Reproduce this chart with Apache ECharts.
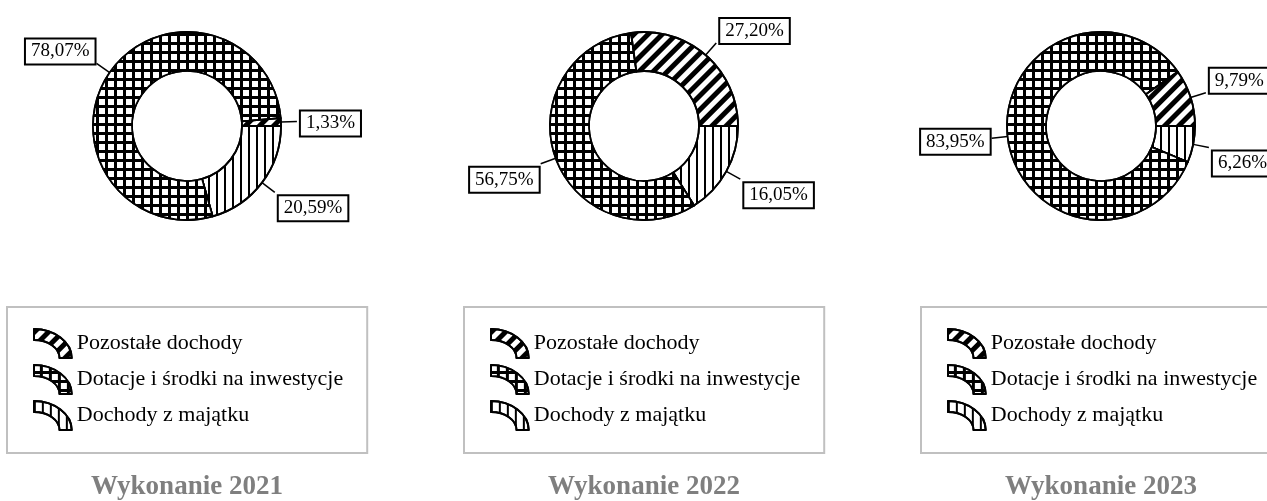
<!DOCTYPE html>
<html>
<head>
<meta charset="utf-8">
<script src="https://cdn.jsdelivr.net/npm/echarts@6/dist/echarts.min.js"></script>
<style>
  html, body { margin: 0; padding: 0; background: #fff; }
  #main { width: 1267px; height: 501px; }
</style>
</head>
<body>
<div id="main"></div>
<script>
var categories = ['Dochody z majątku', 'Dotacje i środki na inwestycje', 'Pozostałe dochody'];
var legendOrder = ['Pozostałe dochody', 'Dotacje i środki na inwestycje', 'Dochody z majątku'];
var titles = ['Wykonanie 2021', 'Wykonanie 2022', 'Wykonanie 2023'];
var share2021 = [20.59, 78.07, 1.33];
var share2022 = [16.05, 56.75, 27.20];
var share2023 = [6.26, 83.95, 9.79];
var shares = [share2021, share2022, share2023];

var dom = document.getElementById('main');
var myChart = echarts.init(dom);

var FONT = 'Liberation Serif';
var centersX = [187, 644, 1101];

// patterns: vertical lines, grid, diagonal stripes
var patterns = [
	{ color: '#fff', decal: { symbol: 'rect', color: '#000', dashArrayX: [2, 6], dashArrayY: [1, 0], rotation: 0 } },
	{ color: '#000', decal: { symbol: 'rect', color: '#fff', dashArrayX: [6, 3], dashArrayY: [6, 3], rotation: 0 } },
	{ color: '#fff', decal: { symbol: 'rect', color: '#000', dashArrayX: [1, 0], dashArrayY: [5, 5], rotation: -Math.PI / 4 } }
];

// quarter ring icon (bezier arcs), a bit wider than tall
var ringIcon = 'path://M0,0 C70,0 130,45 130,100 L88,100 C88,65 48,38 0,38 Z';

function makeData(vals) {
	return categories.map(function (name, i) {
		return {
			name: name,
			value: vals[i],
			itemStyle: {
				color: patterns[i].color,
				decal: patterns[i].decal,
				borderColor: '#000',
				borderWidth: 1.8
			}
		};
	});
}

// push the label box away from the ring, like the original (line hits a corner)
function moveLabel(p) {
	var pts = p.labelLinePoints;
	if (!pts) return {};
	var a = pts[0], b = pts[1];
	var dx = b[0] - a[0], dy = b[1] - a[1];
	var len = Math.sqrt(dx * dx + dy * dy) || 1;
	var s = dy / len;
	var m = Math.min(14, Math.max(0, Math.abs(s) - 0.1) * 150);
	var shift = (s < 0 ? -m : m) + 2;
	return { dy: shift, dx: (dx < 0 ? -2 : 4) };
}

var series = [];
var legends = [];
var titleList = [];
for (var k = 0; k < 3; k++) {
	series.push({
		type: 'pie',
		left: 0,
		top: 0,
		width: 1500,
		height: 501,
		center: [centersX[k], 126],
		radius: [55, 94],
		startAngle: 0,
		clockwise: true,
		silent: true,
		emphasis: { disabled: true },
		data: makeData(shares[k]),
		label: {
			show: true,
			position: 'outside',
			formatter: function (p) {
				return p.value.toFixed(2).replace('.', ',') + '%';
			},
			fontFamily: FONT,
			fontSize: 19,
			color: '#000',
			backgroundColor: '#fff',
			borderColor: '#000',
			borderWidth: 2,
			padding: [3, 5, 2, 5],
			distanceToLabelLine: 0,
			overflow: 'none'
		},
		labelLine: {
			show: true,
			length: 16,
			length2: 0,
			lineStyle: { color: '#000', width: 1.5 }
		},
		labelLayout: moveLabel
	});
	legends.push({
		orient: 'vertical',
		left: centersX[k] - 180,
		top: 307,
		data: legendOrder,
		icon: ringIcon,
		itemWidth: 38,
		itemHeight: 29,
		itemGap: 5,
		padding: [21, 24, 22, 26],
		borderColor: '#c0c0c0',
		borderWidth: 2,
		selectedMode: false,
		itemStyle: { borderColor: '#000', borderWidth: 2 },
		textStyle: { fontFamily: FONT, fontSize: 22, color: '#000' }
	});
	titleList.push({
		text: titles[k],
		left: centersX[k],
		top: 474,
		textAlign: 'center',
		padding: 0,
		textStyle: { fontFamily: FONT, fontSize: 27, fontWeight: 'bold', color: '#7f7f7f' }
	});
}

var option = {
	backgroundColor: '#fff',
	animation: false,
	title: titleList,
	legend: legends,
	series: series
};
myChart.setOption(option);
</script>
</body>
</html>
